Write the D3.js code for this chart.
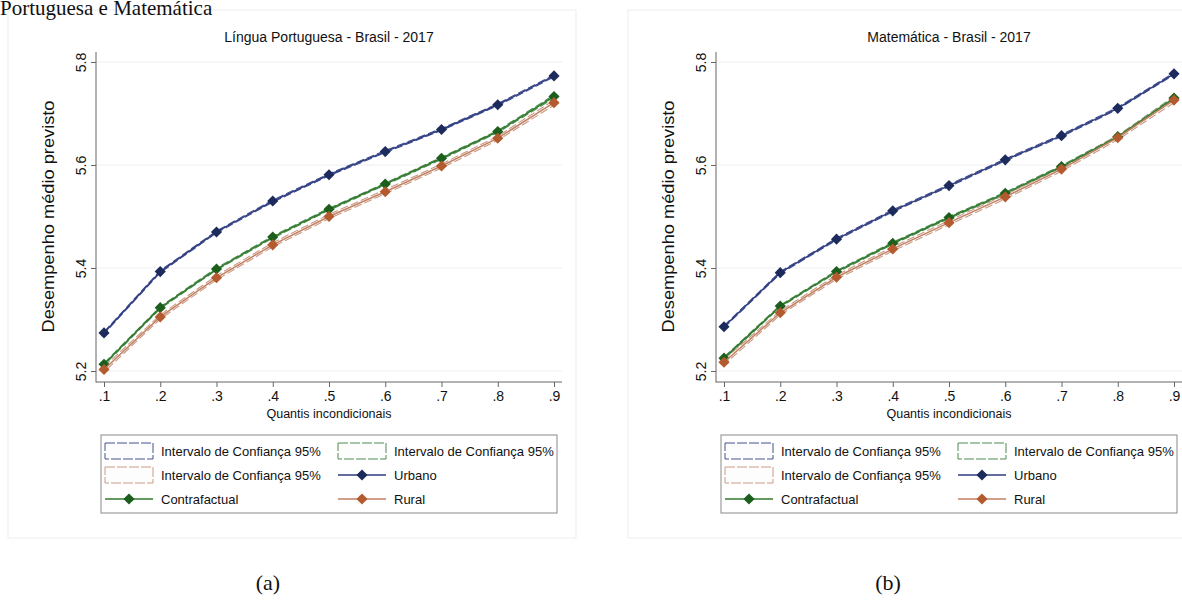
<!DOCTYPE html>
<html>
<head>
<meta charset="utf-8">
<script src="https://cdn.jsdelivr.net/npm/d3@7"></script>
<style>
  body { margin: 0; background: #fff; }
  svg { display: block; }
  text { font-family: "Liberation Sans", Arial, sans-serif; fill: #111; }
</style>
</head>
<body>
<div id="chart"></div>
<script>
const width = 1182;
const height = 602;

// quantis incondicionais
const quantis = [0.1, 0.2, 0.3, 0.4, 0.5, 0.6, 0.7, 0.8, 0.9];
const xTickLabels = ['.1', '.2', '.3', '.4', '.5', '.6', '.7', '.8', '.9'];
const yTicks = [5.2, 5.4, 5.6, 5.8];
const yTickLabels = ['5.2', '5.4', '5.6', '5.8'];

// Língua Portuguesa
const lpUrbano = [5.274, 5.393, 5.470, 5.530, 5.581, 5.626, 5.669, 5.717, 5.773];
const lpContra = [5.213, 5.323, 5.398, 5.460, 5.514, 5.563, 5.613, 5.665, 5.733];
const lpRural  = [5.203, 5.305, 5.381, 5.445, 5.500, 5.548, 5.598, 5.652, 5.721];
const lpUrbanoIC = [0.002, 0.002, 0.002, 0.002, 0.002, 0.002, 0.002, 0.002, 0.002];
const lpContraIC = [0.002, 0.002, 0.002, 0.002, 0.002, 0.002, 0.002, 0.002, 0.003];
const lpRuralIC  = [0.005, 0.004, 0.004, 0.004, 0.004, 0.004, 0.004, 0.004, 0.005];

// Matemática
const matUrbano = [5.286, 5.391, 5.456, 5.511, 5.560, 5.610, 5.657, 5.710, 5.777];
const matContra = [5.225, 5.326, 5.393, 5.448, 5.498, 5.545, 5.597, 5.655, 5.730];
const matRural  = [5.217, 5.313, 5.382, 5.437, 5.488, 5.538, 5.592, 5.653, 5.726];
const matUrbanoIC = [0.002, 0.002, 0.002, 0.002, 0.002, 0.002, 0.002, 0.002, 0.002];
const matContraIC = [0.002, 0.002, 0.002, 0.002, 0.002, 0.002, 0.002, 0.002, 0.003];
const matRuralIC  = [0.005, 0.004, 0.004, 0.004, 0.004, 0.004, 0.004, 0.004, 0.005];

const legendLabels = ['Intervalo de Confiança 95%', 'Intervalo de Confiança 95%',
  'Intervalo de Confiança 95%', 'Urbano', 'Contrafactual', 'Rural'];

const colors = {
  urbano: {line: '#2e3b80', marker: '#1c2a5c', ic: '#44528f'},
  contra: {line: '#2f7a2f', marker: '#1c5e1c', ic: '#4f8c4f'},
  rural:  {line: '#c38062', marker: '#b35a2e', ic: '#c99a84'}
};

const svg = d3.select('#chart').append('svg')
  .attr('width', width)
  .attr('height', height);

function drawPanel(ox, title, caption, series) {
  const g = svg.append('g').attr('transform', `translate(${ox},0)`);

  g.append('rect')
    .attr('x', 8).attr('y', 10)
    .attr('width', 568).attr('height', 528)
    .attr('fill', 'none')
    .attr('stroke', '#ededed');

  const x = d3.scaleLinear().domain([0.1, 0.9]).range([104, 554]);
  const y = d3.scaleLinear().domain([5.2, 5.8]).range([371, 62]);
  const xl = 96, xr = 562, yt = 52, yb = 382;

  // grid
  g.append('g').selectAll('line').data(yTicks).enter().append('line')
    .attr('x1', xl).attr('x2', xr)
    .attr('y1', d => y(d)).attr('y2', d => y(d))
    .attr('stroke', '#efefef');

  // axes
  const yAxis = g.append('g')
    .attr('transform', `translate(${xl},0)`)
    .call(d3.axisLeft(y).tickValues(yTicks).tickSize(5)
      .tickFormat((d, i) => yTickLabels[i]));
  yAxis.select('.domain').remove();
  yAxis.selectAll('line').attr('stroke', '#666');
  yAxis.selectAll('text')
    .attr('x', null).attr('dy', null)
    .attr('text-anchor', 'middle')
    .attr('transform', 'translate(-10,0) rotate(-90)')
    .style('font-size', '14px').style('fill', '#111');

  const xAxis = g.append('g')
    .attr('transform', `translate(0,${yb})`)
    .call(d3.axisBottom(x).tickValues(quantis).tickSize(5)
      .tickFormat((d, i) => xTickLabels[i]));
  xAxis.select('.domain').remove();
  xAxis.selectAll('line').attr('stroke', '#666');
  xAxis.selectAll('text').attr('y', 9)
    .style('font-size', '14px').style('fill', '#111');

  g.append('line').attr('x1', xl).attr('x2', xl).attr('y1', yt).attr('y2', yb + 0.5)
    .attr('stroke', '#666');
  g.append('line').attr('x1', xl).attr('x2', xr).attr('y1', yb).attr('y2', yb)
    .attr('stroke', '#666');

  // titles
  g.append('text')
    .attr('x', (x.range()[0] + x.range()[1]) / 2).attr('y', 42)
    .attr('text-anchor', 'middle')
    .style('font-size', '14px')
    .text(title);

  g.append('text')
    .attr('x', (x.range()[0] + x.range()[1]) / 2).attr('y', 418)
    .attr('text-anchor', 'middle')
    .style('font-size', '12.5px')
    .text('Quantis incondicionais');

  g.append('text')
    .attr('transform', `translate(54,${(y.range()[0] + y.range()[1]) / 2}) rotate(-90)`)
    .attr('text-anchor', 'middle')
    .attr('textLength', 232)
    .attr('lengthAdjust', 'spacingAndGlyphs')
    .style('font-size', '16px')
    .text('Desempenho médio previsto');

  // confidence bands
  const area = (vals, ic) => d3.area()
    .x((d, i) => x(quantis[i]))
    .y0((d, i) => y(vals[i] - ic[i]))
    .y1((d, i) => y(vals[i] + ic[i]))(vals);

  series.forEach(s => {
    g.append('path')
      .attr('d', area(s.values, s.ic))
      .attr('fill', 'none')
      .attr('stroke', s.color.ic)
      .attr('stroke-width', 1.1)
      .attr('stroke-dasharray', '8,3');
  });

  const line = d3.line()
    .x((d, i) => x(quantis[i]))
    .y(d => y(d));

  // Stata style diamond: a square turned 45 degrees
  const diamond = d3.symbol(d3.symbolSquare, 62);

  series.forEach(s => {
    g.append('path')
      .attr('d', line(s.values))
      .attr('fill', 'none')
      .attr('stroke', s.color.line)
      .attr('stroke-width', 1.5);
    g.append('g').selectAll('path').data(s.values).enter().append('path')
      .attr('d', diamond)
      .attr('transform', (d, i) => `translate(${x(quantis[i])},${y(d)}) rotate(45)`)
      .attr('fill', s.color.marker);
  });

  // legend
  const lg = g.append('g');
  lg.append('rect')
    .attr('x', 101).attr('y', 435)
    .attr('width', 456).attr('height', 78)
    .attr('fill', '#fff')
    .attr('stroke', '#8a8a8a');

  const rows = [451, 475, 499];
  const cols = [105, 338];
  const items = [
    {type: 'ic', c: colors.urbano},
    {type: 'ic', c: colors.contra},
    {type: 'ic', c: colors.rural},
    {type: 'line', c: colors.urbano},
    {type: 'line', c: colors.contra},
    {type: 'line', c: colors.rural}
  ];
  items.forEach((it, i) => {
    const kx = cols[i % 2];
    const ky = rows[Math.floor(i / 2)];
    if (it.type === 'ic') {
      lg.append('rect')
        .attr('x', kx).attr('y', ky - 8)
        .attr('width', 48).attr('height', 16)
        .attr('fill', '#fdfdfd')
        .attr('stroke', it.c.ic)
        .attr('stroke-dasharray', '10,2');
    } else {
      lg.append('line')
        .attr('x1', kx).attr('x2', kx + 48)
        .attr('y1', ky).attr('y2', ky)
        .attr('stroke', it.c.line).attr('stroke-width', 1.4);
      lg.append('path')
        .attr('d', diamond)
        .attr('transform', `translate(${kx + 24},${ky}) rotate(45)`)
        .attr('fill', it.c.marker);
    }
    lg.append('text')
      .attr('x', kx + 56).attr('y', ky + 5)
      .style('font-size', '13px')
      .text(legendLabels[i]);
  });

  svg.append('text')
    .attr('x', ox + 268).attr('y', 590)
    .attr('text-anchor', 'middle')
    .style('font-family', '"Liberation Serif", "Times New Roman", serif')
    .style('font-size', '22px')
    .text(caption);
}

drawPanel(0, 'Língua Portuguesa - Brasil - 2017', '(a)', [
  {values: lpUrbano, ic: lpUrbanoIC, color: colors.urbano},
  {values: lpContra, ic: lpContraIC, color: colors.contra},
  {values: lpRural, ic: lpRuralIC, color: colors.rural}
]);

drawPanel(620, 'Matemática - Brasil - 2017', '(b)', [
  {values: matUrbano, ic: matUrbanoIC, color: colors.urbano},
  {values: matContra, ic: matContraIC, color: colors.contra},
  {values: matRural, ic: matRuralIC, color: colors.rural}
]);

// bit of the document text above the figure, drawn on top of the panel frame
svg.append('text')
  .attr('x', 0).attr('y', 15)
  .style('font-family', '"Liberation Serif", "Times New Roman", serif')
  .style('font-size', '21px')
  .text('Portuguesa e Matemática');
</script>
</body>
</html>
